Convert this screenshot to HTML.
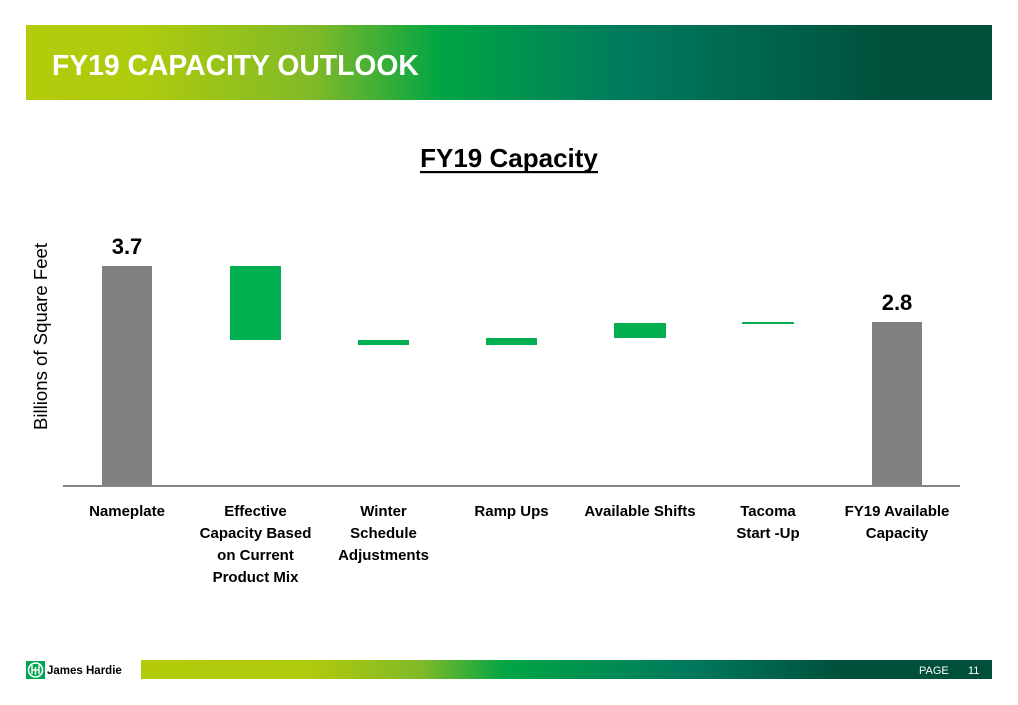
<!DOCTYPE html>
<html>
<head>
<meta charset="utf-8">
<style>
  html,body{margin:0;padding:0;background:#fff;}
  body{width:1018px;height:705px;overflow:hidden;position:relative;font-family:"Liberation Sans",Arial,sans-serif;}
  svg{position:absolute;left:0;top:0;}
</style>
</head>
<body>
<svg width="1018" height="705" viewBox="0 0 1018 705" xmlns="http://www.w3.org/2000/svg">
  <defs>
    <linearGradient id="hg" x1="26" y1="0" x2="992" y2="0" gradientUnits="userSpaceOnUse">
      <stop offset="0" stop-color="#b3cb0b"/>
      <stop offset="0.12" stop-color="#aecb0d"/>
      <stop offset="0.30" stop-color="#7fb928"/>
      <stop offset="0.43" stop-color="#00a545"/>
      <stop offset="0.62" stop-color="#007a5e"/>
      <stop offset="0.80" stop-color="#005f48"/>
      <stop offset="0.90" stop-color="#004f3a"/>
      <stop offset="1" stop-color="#004f3a"/>
    </linearGradient>
    <linearGradient id="fg" x1="140" y1="0" x2="992" y2="0" gradientUnits="userSpaceOnUse">
      <stop offset="0" stop-color="#b3cb0b"/>
      <stop offset="0.20" stop-color="#b0ca0c"/>
      <stop offset="0.33" stop-color="#80ba28"/>
      <stop offset="0.43" stop-color="#00a545"/>
      <stop offset="0.64" stop-color="#007a5e"/>
      <stop offset="0.83" stop-color="#004f3a"/>
      <stop offset="1" stop-color="#004f3a"/>
    </linearGradient>
  </defs>

  <!-- Header -->
  <rect x="26" y="25" width="966" height="75" fill="url(#hg)"/>
  <text x="52" y="75" font-family="Liberation Sans, Arial, sans-serif" font-weight="bold" font-size="28.3" fill="#ffffff">FY19 CAPACITY OUTLOOK</text>

  <!-- Chart title -->
  <text x="509" y="167" text-anchor="middle" font-family="Liberation Sans, Arial, sans-serif" font-weight="bold" font-size="26" fill="#000">FY19 Capacity</text>
  <rect x="420" y="171" width="178" height="2.2" fill="#000"/>

  <!-- Y axis label -->
  <text transform="translate(47,336.5) rotate(-90)" text-anchor="middle" font-family="Liberation Sans, Arial, sans-serif" font-size="18.6" fill="#000">Billions of Square Feet</text>

  <!-- Bars -->
  <rect x="102" y="266" width="50" height="220" fill="#808080"/>
  <rect x="230" y="266" width="51" height="74" fill="#00b050"/>
  <rect x="358" y="340" width="51" height="5" fill="#00b050"/>
  <rect x="486" y="338" width="51" height="7" fill="#00b050"/>
  <rect x="614" y="323" width="52" height="15" fill="#00b050"/>
  <rect x="742" y="322" width="52" height="2" fill="#00b050"/>
  <rect x="872" y="322" width="50" height="164" fill="#808080"/>

  <!-- Axis -->
  <rect x="63" y="485" width="897" height="2" fill="#868686"/>

  <!-- Value labels -->
  <text x="127" y="254" text-anchor="middle" font-family="Liberation Sans, Arial, sans-serif" font-weight="bold" font-size="22" fill="#000">3.7</text>
  <text x="897" y="310" text-anchor="middle" font-family="Liberation Sans, Arial, sans-serif" font-weight="bold" font-size="22" fill="#000">2.8</text>

  <!-- Category labels -->
  <g font-family="Liberation Sans, Arial, sans-serif" font-weight="bold" font-size="15" fill="#000" text-anchor="middle">
    <text x="127" y="516">Nameplate</text>
    <text x="255.5" y="516">Effective</text>
    <text x="255.5" y="538">Capacity Based</text>
    <text x="255.5" y="560">on Current</text>
    <text x="255.5" y="582">Product Mix</text>
    <text x="383.5" y="516">Winter</text>
    <text x="383.5" y="538">Schedule</text>
    <text x="383.5" y="560">Adjustments</text>
    <text x="511.5" y="516">Ramp Ups</text>
    <text x="640" y="516">Available Shifts</text>
    <text x="768" y="516">Tacoma</text>
    <text x="768" y="538">Start -Up</text>
    <text x="897" y="516">FY19 Available</text>
    <text x="897" y="538">Capacity</text>
  </g>

  <!-- Footer -->
  <rect x="141" y="660" width="851" height="19" fill="url(#fg)"/>
  <text x="919" y="674" font-family="Liberation Sans, Arial, sans-serif" font-size="11" fill="#ffffff">PAGE</text>
  <text x="968" y="674" font-family="Liberation Sans, Arial, sans-serif" font-size="11" fill="#ffffff">11</text>

  <!-- Logo -->
  <rect x="26" y="661" width="19" height="18" fill="#00a651"/>
  <circle cx="35.5" cy="670" r="7" fill="none" stroke="#ffffff" stroke-width="1.6"/>
  <path d="M32 665 L32 674 M35.5 667 L35.5 675 M39 665 L39 674 M32 670 L39 670" stroke="#ffffff" stroke-width="1.4" fill="none"/>
  <text x="47" y="674" font-family="Liberation Sans, Arial, sans-serif" font-weight="bold" font-size="11.5" fill="#000">James Hardie</text>
</svg>
</body>
</html>
